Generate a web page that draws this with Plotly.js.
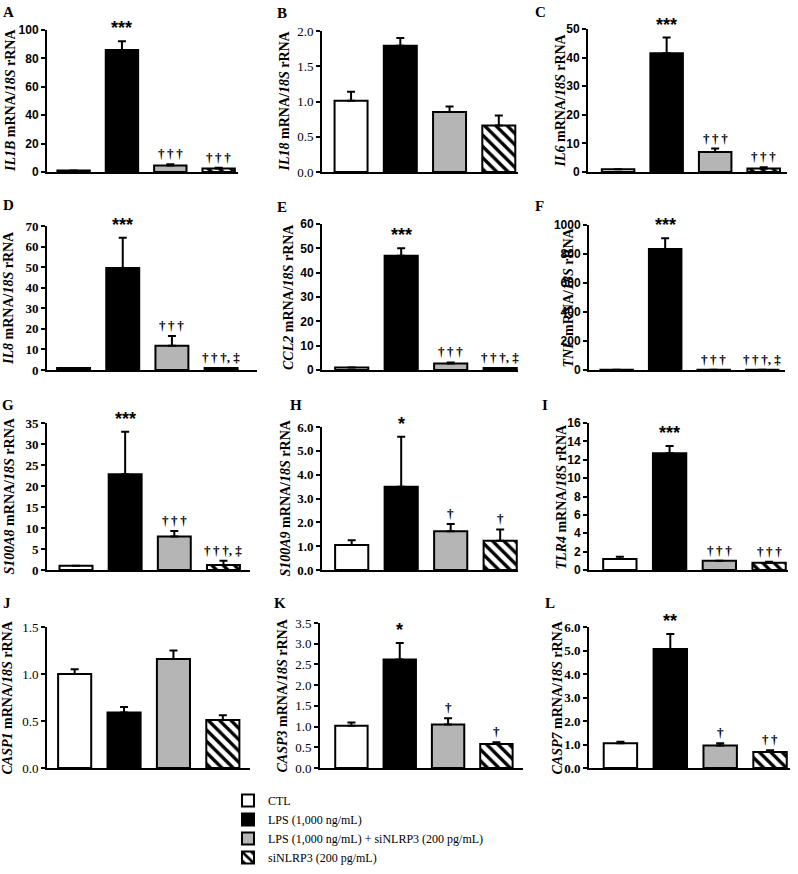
<!DOCTYPE html>
<html><head><meta charset="utf-8">
<script src="https://cdn.plot.ly/plotly-3.0.1.min.js"></script>
<style>body{margin:0;background:#fff}#chart{width:798px;height:874px}</style>
</head><body><div id="chart"></div>
<script>
// ---------------- DATA ----------------
const groups = ["CTL", "LPS (1,000 ng/mL)", "LPS (1,000 ng/mL) + siNLRP3 (200 pg/mL)", "siNLRP3 (200 pg/mL)"];
const panelLetters = ["A","B","C","D","E","F","G","H","I","J","K","L"];
const genes = ["IL1B","IL18","IL6","IL8","CCL2","TNF","S100A8","S100A9","TLR4","CASP1","CASP3","CASP7"];

const mean_IL1B   = [1.0, 86, 4.5, 2.5];     const err_IL1B   = [0, 6, 1, 0.5];
const mean_IL18   = [1.01, 1.79, 0.85, 0.66]; const err_IL18   = [0.13, 0.11, 0.08, 0.14];
const mean_IL6    = [1.0, 41.5, 7.0, 1.2];   const err_IL6    = [0, 5.5, 1.2, 0.5];
const mean_IL8    = [1.0, 49.6, 11.8, 1.0];  const err_IL8    = [0, 14.7, 4.7, 0];
const mean_CCL2   = [1.0, 47, 2.7, 0.8];     const err_CCL2   = [0, 3, 0.4, 0];
const mean_TNF    = [1.0, 834, 2, 1];        const err_TNF    = [0, 74, 0, 0];
const mean_S100A8 = [1.0, 22.8, 8.0, 1.2];   const err_S100A8 = [0, 10.1, 1.3, 1.0];
const mean_S100A9 = [1.05, 3.49, 1.63, 1.23]; const err_S100A9 = [0.2, 2.1, 0.3, 0.47];
const mean_TLR4   = [1.2, 12.7, 1.0, 0.8];   const err_TLR4   = [0.25, 0.8, 0, 0.1];
const mean_CASP1  = [1.0, 0.59, 1.16, 0.51]; const err_CASP1  = [0.05, 0.06, 0.09, 0.05];
const mean_CASP3  = [1.02, 2.62, 1.05, 0.58]; const err_CASP3  = [0.08, 0.4, 0.15, 0.04];
const mean_CASP7  = [1.05, 5.06, 0.96, 0.68]; const err_CASP7  = [0.07, 0.64, 0.09, 0.07];

const sig_IL1B   = ["", "***", "†††", "†††"];
const sig_IL18   = ["", "", "", ""];
const sig_IL6    = ["", "***", "†††", "†††"];
const sig_IL8    = ["", "***", "†††", "†††, ‡"];
const sig_CCL2   = ["", "***", "†††", "†††, ‡"];
const sig_TNF    = ["", "***", "†††", "†††, ‡"];
const sig_S100A8 = ["", "***", "†††", "†††, ‡"];
const sig_S100A9 = ["", "*", "†", "†"];
const sig_TLR4   = ["", "***", "†††", "†††"];
const sig_CASP1  = ["", "", "", ""];
const sig_CASP3  = ["", "*", "†", "†"];
const sig_CASP7  = ["", "**", "†", "††"];

const yTickMax  = [100, 2.0, 50, 70, 60, 1000, 35, 6.0, 16, 1.5, 3.5, 6.0];
const yTickStep = [20, 0.5, 10, 10, 10, 200, 5, 1.0, 2, 0.5, 0.5, 1.0];

const means = [mean_IL1B, mean_IL18, mean_IL6, mean_IL8, mean_CCL2, mean_TNF, mean_S100A8, mean_S100A9, mean_TLR4, mean_CASP1, mean_CASP3, mean_CASP7];
const errs  = [err_IL1B, err_IL18, err_IL6, err_IL8, err_CCL2, err_TNF, err_S100A8, err_S100A9, err_TLR4, err_CASP1, err_CASP3, err_CASP7];
const sigs  = [sig_IL1B, sig_IL18, sig_IL6, sig_IL8, sig_CCL2, sig_TNF, sig_S100A8, sig_S100A9, sig_TLR4, sig_CASP1, sig_CASP3, sig_CASP7];

// ---------------- LAYOUT / STYLE ----------------
const W = 798, H = 874;
// [left, right, top, bottom] in px
const boxes = [
  [47,238,30,172],[322,518,31,172],[588,787,29,172],
  [47,257,226,370],[322,518,224,370],[589,785,225,370],
  [47,250,423,570],[322,518,427,570],[589,788,423,570],
  [47,250,627,768],[320,523,623,768],[589,790,627,768]
];
const xRanges = [
  [-0.55,3.40],[-0.59,3.39],[-0.62,3.48],
  [-0.54,3.73],[-0.60,3.36],[-0.57,3.47],
  [-0.59,3.54],[-0.60,3.36],[-0.62,3.38],
  [-0.56,3.55],[-0.65,3.55],[-0.63,3.40]
];
const titleX = [10,284,560, 8,288,568, 9,285,561, 7,282,557];
const letterPos = [[8,12],[282,13],[540,12],[8,205],[282,207],[539,206],[8,405],[296,405],[545,405],[7,603],[280,603],[550,603]];
const SANS = "Liberation Sans, Arial, sans-serif";
const SERIF = "Liberation Serif, Times New Roman, serif";
const tickStyle = [
  [SANS,"bold",12],[SERIF,"normal",13],[SANS,"bold",12],
  [SERIF,"bold",13],[SANS,"bold",12],[SANS,"bold",12],
  [SERIF,"bold",13],[SERIF,"bold",13],[SANS,"bold",12],
  [SERIF,"normal",13],[SERIF,"normal",13],[SERIF,"bold",13]
];
const decimalTicks = [false,true,false,false,false,false,false,true,false,true,true,true];

const fills = ["#ffffff", "#000000", "#b5b5b5", "#ffffff"];

const traces = [];
const annotations = [];
const layout = {
  width: W, height: H,
  margin: {l:0, r:0, t:0, b:0},
  paper_bgcolor: "#ffffff", plot_bgcolor: "#ffffff",
  barmode: "overlay",
  showlegend: true,
  legend: {
    x: 228/W, y: 1 - 786/H, xanchor: "left", yanchor: "top",
    font: {family: SERIF, size: 12, color: "#000"},
    bgcolor: "rgba(0,0,0,0)", itemwidth: 30, tracegroupgap: 0
  },
  annotations: annotations
};

for (let p = 0; p < 12; p++) {
  const k = p === 0 ? "" : String(p + 1);
  const [l, r, t, b] = boxes[p];
  layout["xaxis" + k] = {
    domain: [l / W, r / W], range: xRanges[p], anchor: "y" + k,
    showline: true, linecolor: "#000", linewidth: 2,
    showticklabels: false, ticks: "", showgrid: false, zeroline: false, fixedrange: true
  };
  layout["yaxis" + k] = {
    domain: [1 - b / H, 1 - t / H], range: [0, yTickMax[p]], anchor: "x" + k,
    showline: true, linecolor: "#000", linewidth: 2,
    ticks: "outside", ticklen: 4, tickwidth: 2, tickcolor: "#000",
    tick0: 0, dtick: yTickStep[p], tickformat: decimalTicks[p] ? ".1f" : "d",
    tickfont: {family: tickStyle[p][0], weight: tickStyle[p][1], size: tickStyle[p][2], color: "#000"},
    showgrid: false, zeroline: false, fixedrange: true
  };
  for (let g = 0; g < 4; g++) {
    const marker = {color: fills[g], line: {color: "#000", width: 2}};
    if (g === 3) marker.pattern = {shape: "\\", fgcolor: "#000", bgcolor: "#fff", size: 8, solidity: 0.42};
    traces.push({
      type: "bar", x: [g], y: [means[p][g]], width: 0.67,
      xaxis: "x" + k, yaxis: "y" + k,
      name: groups[g], legendgroup: "g" + g, showlegend: p === 0,
      marker: marker,
      error_y: {type: "data", array: [errs[p][g]], arrayminus: [0], symmetric: false,
                color: "#000", thickness: 2, width: 4},
      hoverinfo: "skip"
    });
    const s = sigs[p][g];
    if (s) {
      const isStar = s.indexOf("*") >= 0;
      annotations.push({
        xref: "x" + k, yref: "y" + k, x: g, y: means[p][g] + errs[p][g],
        text: isStar ? s : s.replace(/†(?=†)/g, "†\u2009"),
        showarrow: false, yanchor: "bottom", yshift: 1,
        font: isStar ? {family: SANS, weight: "bold", size: 18, color: "#000"}
                     : {family: SERIF, weight: "bold", size: 13, color: "#000"}
      });
    }
  }
  // y axis title
  annotations.push({
    xref: "paper", yref: "paper", x: titleX[p] / W, y: 1 - (t + b) / 2 / H,
    text: "<i>" + genes[p] + "</i> mRNA/<i>18S</i> rRNA",
    textangle: -90, showarrow: false, xanchor: "center", yanchor: "middle",
    font: {family: SERIF, weight: "bold", size: 14, color: "#000"}
  });
  // panel letter
  annotations.push({
    xref: "paper", yref: "paper", x: letterPos[p][0] / W, y: 1 - letterPos[p][1] / H,
    text: panelLetters[p], showarrow: false, xanchor: "center", yanchor: "middle",
    font: {family: SERIF, weight: "bold", size: 15, color: "#000"}
  });
}

Plotly.newPlot("chart", traces, layout, {displayModeBar: false, staticPlot: true});
</script>
</body></html>
